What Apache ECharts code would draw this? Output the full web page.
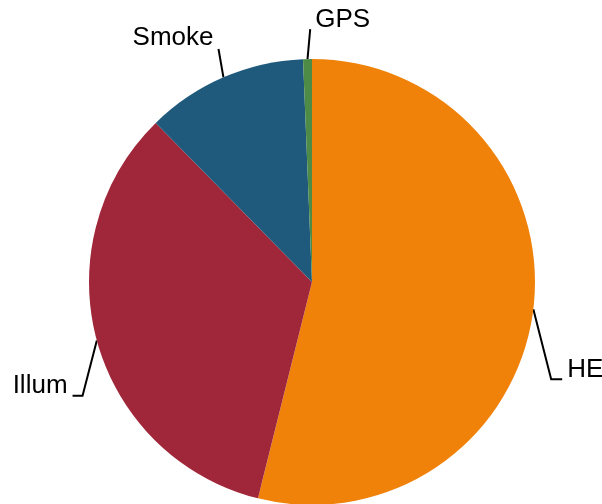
<!DOCTYPE html>
<html><head><meta charset="utf-8">
<script src="https://cdn.jsdelivr.net/npm/echarts@6/dist/echarts.min.js"></script>
<style>html,body{margin:0;padding:0;background:#fff}#c{width:602px;height:504px}</style>
</head><body><div id="c"></div>
<script>
var categories = ['HE', 'Illum', 'Smoke', 'GPS'];
var values = [53.9, 33.75, 11.72, 0.64];
var colors = ['#F0820A', '#A0273A', '#1F5A7C', '#4E8B46'];
// label offsets and leader-line styling (per slice)
var labelShift = [[-1, 58.5], [5, 40], [13, -21], [78, -19]];
var lineSide = ['left', 'right', 'right', 'left'];
var lineTail = [11, 10, 0, 0];
var lineDrop = [9, 10, 11, 9];
var chart = echarts.init(document.getElementById('c'), null, {renderer: 'canvas'});
chart.setOption({
  animation: false,
  series: [{
    type: 'pie',
    center: [312, 282],
    radius: 223,
    startAngle: 90,
    clockwise: true,
    avoidLabelOverlap: false,
    itemStyle: {borderColor: '#fff', borderWidth: 0},
    label: {color: '#000', fontSize: 26, fontFamily: 'Liberation Sans, Arial, sans-serif'},
    labelLine: {length: 20, length2: 10, lineStyle: {color: '#000', width: 2}},
    labelLayout: function (p) {
      var i = p.dataIndex;
      var dx = labelShift[i][0], dy = labelShift[i][1];
      var r = p.labelRect;
      var nx = r.x + dx, ny = r.y + dy;
      var by = ny + r.height / 2 + lineDrop[i];
      var ex, mx;
      if (lineSide[i] === 'left') { ex = nx - 5; mx = ex - lineTail[i]; }
      else { ex = nx + r.width + 5; mx = ex + lineTail[i]; }
      var p0 = p.labelLinePoints ? p.labelLinePoints[0] : [0, 0];
      var pts = lineTail[i] > 0 ? [p0, [mx, by], [ex, by]] : [p0, [ex, by], [ex, by]];
      return {dx: dx, dy: dy, labelLinePoints: pts};
    },
    data: categories.map(function (c, i) { return {name: c, value: values[i], itemStyle: {color: colors[i]}}; })
  }]
});
</script></body></html>
